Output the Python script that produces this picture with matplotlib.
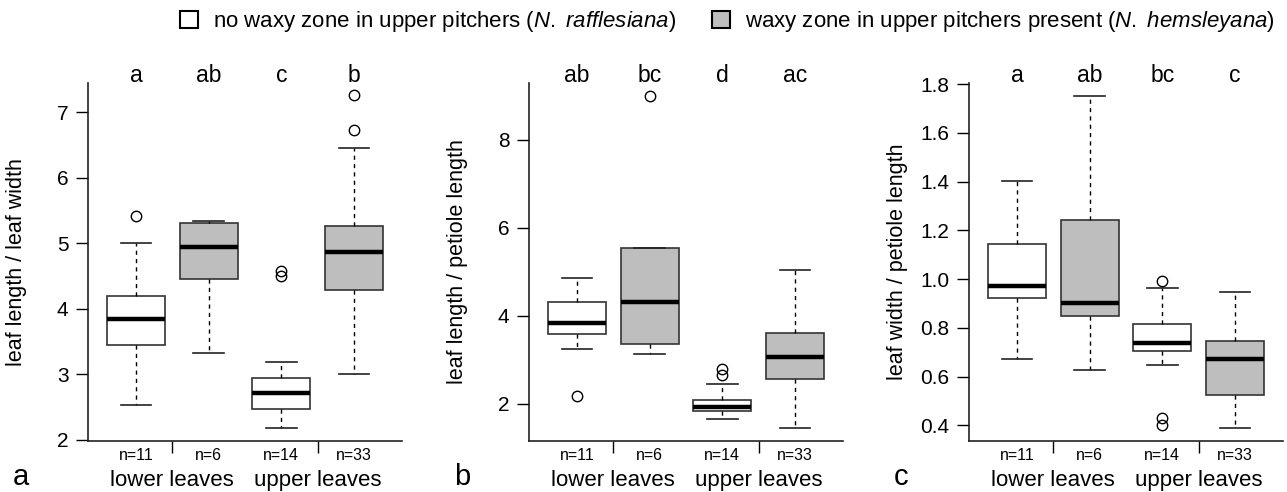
import matplotlib.pyplot as plt
from matplotlib.patches import Patch

plt.rcParams['font.family'] = 'Liberation Sans'
plt.rcParams['mathtext.fontset'] = 'custom'
plt.rcParams['mathtext.rm'] = 'Liberation Sans'
plt.rcParams['mathtext.it'] = 'Liberation Sans:italic'

n_labels = ['n=11', 'n=6', 'n=14', 'n=33']
groups = ['lower leaves', 'upper leaves']
fills = ['white', '#bebebe', 'white', '#bebebe']

# panel a: leaf length / leaf width
a_med = [3.84, 4.94, 2.71, 4.87]
a_q1 = [3.445, 4.457, 2.48, 4.29]
a_q3 = [4.197, 5.32, 2.94, 5.26]
a_lo = [2.53, 3.33, 2.18, 3.0]
a_hi = [5.0, 5.35, 3.19, 6.46]
a_out = [[5.42], [], [4.58, 4.50], [7.26, 6.74]]
a_sig = ['a', 'ab', 'c', 'b']

# panel b: leaf length / petiole length
b_med = [3.83, 4.32, 1.93, 3.07]
b_q1 = [3.574, 3.35, 1.83, 2.57]
b_q3 = [4.315, 5.53, 2.08, 3.61]
b_lo = [3.25, 3.13, 1.65, 1.44]
b_hi = [4.853, 5.53, 2.44, 5.04]
b_out = [[2.18], [8.99], [2.78, 2.65], []]
b_sig = ['ab', 'bc', 'd', 'ac']

# panel c: leaf width / petiole length
c_med = [0.974, 0.904, 0.74, 0.674]
c_q1 = [0.923, 0.847, 0.707, 0.526]
c_q3 = [1.144, 1.244, 0.817, 0.746]
c_lo = [0.673, 0.629, 0.649, 0.388]
c_hi = [1.401, 1.752, 0.963, 0.948]
c_out = [[], [], [0.993, 0.431, 0.403], []]
c_sig = ['a', 'ab', 'bc', 'c']

panels = [
    ('a', 'leaf length / leaf width', a_med, a_q1, a_q3, a_lo, a_hi, a_out, a_sig,
     (1.985, 7.45), [2, 3, 4, 5, 6, 7], '%d', 0.0684),
    ('b', 'leaf length / petiole length', b_med, b_q1, b_q3, b_lo, b_hi, b_out, b_sig,
     (1.15, 9.29), [2, 4, 6, 8], '%d', 0.411),
    ('c', 'leaf width / petiole length', c_med, c_q1, c_q3, c_lo, c_hi, c_out, c_sig,
     (0.336, 1.805), [0.4, 0.6, 0.8, 1.0, 1.2, 1.4, 1.6, 1.8], '%.1f', 0.7529),
]

fig = plt.figure(figsize=(12.87, 4.92), dpi=100)

for letter, ylabel, med, q1, q3, lo, hi, out, sig, ylim, yt, fmt, left in panels:
    ax = fig.add_axes([left, 0.1037, 0.244, 0.7276])
    stats = []
    for i in range(4):
        stats.append(dict(med=med[i], q1=q1[i], q3=q3[i], whislo=lo[i], whishi=hi[i], fliers=out[i]))
    bp = ax.bxp(stats, positions=[1, 2, 3, 4], widths=0.8, capwidths=0.42, patch_artist=True,
                boxprops=dict(edgecolor='#333333', linewidth=1.2),
                medianprops=dict(color='black', linewidth=3.2, solid_capstyle='butt'),
                whiskerprops=dict(color='black', linewidth=1.0, linestyle=(0, (3, 3))),
                capprops=dict(color='#222222', linewidth=1.2),
                flierprops=dict(marker='o', markerfacecolor='none', markeredgecolor='black',
                                markersize=7.5, markeredgewidth=1.0))
    for patch, fc in zip(bp['boxes'], fills):
        patch.set_facecolor(fc)

    ax.set_xlim(0.34, 4.66)
    ax.set_ylim(*ylim)
    ax.set_yticks(yt)
    ax.set_yticklabels([fmt % v for v in yt])
    ax.tick_params(axis='y', direction='out', length=8.5, width=1, pad=5.5, labelsize=15)
    ax.set_xticks([1, 2, 3, 4])
    ax.set_xticklabels(n_labels)
    ax.tick_params(axis='x', which='major', length=0, pad=5, labelsize=11.5)
    ax.set_xticks([1.5, 3.5], minor=True)
    ax.tick_params(axis='x', which='minor', direction='out', length=8.5, width=1)

    ax.spines['top'].set_visible(False)
    ax.spines['right'].set_visible(False)
    for s in ['left', 'bottom']:
        ax.spines[s].set_linewidth(1.2)
        ax.spines[s].set_color('#222222')

    ax.set_ylabel(ylabel, fontsize=15.5)
    ax.yaxis.set_label_coords(-0.193, 0.5)

    for i in range(4):
        ax.text(i + 1, 1.003, sig[i], transform=ax.get_xaxis_transform(),
                ha='center', va='baseline', fontsize=16.5)
    ax.text(1.5, -0.111, groups[0], transform=ax.get_xaxis_transform(),
            ha='center', va='center', fontsize=16)
    ax.text(3.5, -0.111, groups[1], transform=ax.get_xaxis_transform(),
            ha='center', va='center', fontsize=16)
    ax.text(-0.239, -0.123, letter, transform=ax.transAxes, ha='left', va='baseline', fontsize=21)

handles = [Patch(facecolor='white', edgecolor='black', linewidth=1.5),
           Patch(facecolor='#bebebe', edgecolor='black', linewidth=1.5)]
labels = [r'no waxy zone in upper pitchers ($\it{N.\ rafflesiana}$)',
          r'waxy zone in upper pitchers present ($\it{N.\ hemsleyana}$)']
fig.legend(handles, labels, loc='center', bbox_to_anchor=(0.5653, 0.956), ncol=2, frameon=False,
           fontsize=16, handlelength=0.82, handleheight=0.8, handletextpad=0.68, columnspacing=1.6)

fig.savefig('out.png', dpi=100)
